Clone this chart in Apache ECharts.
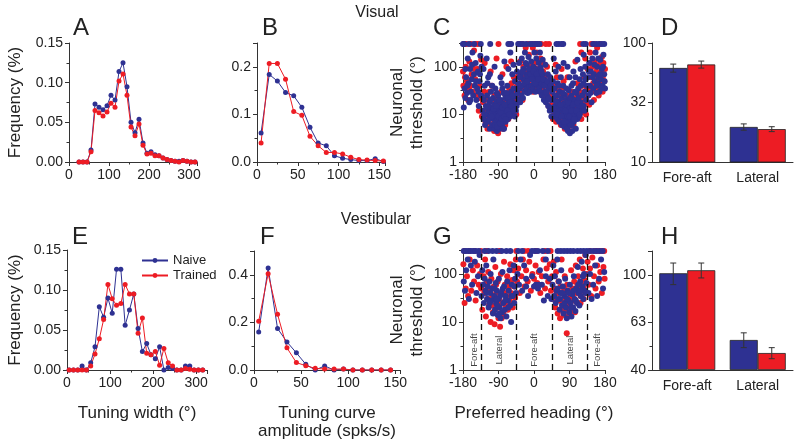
<!DOCTYPE html>
<html>
<head>
<meta charset="utf-8">
<script src="https://cdn.jsdelivr.net/npm/echarts@6/dist/echarts.min.js"></script>
<style>html,body{margin:0;padding:0;background:#fff}#main{width:800px;height:446px}</style>
</head>
<body>
<div id="main"></div>
<script>
var NAIVE = '#2e3192', TRAINED = '#ed1c24', INK = '#222';
var FONT = 'Liberation Sans, Arial, sans-serif';

// A: visual tuning width histogram
var widthBinsA = [25,35,45,55,65,75,85,95,105,115,125,135,145,155,165,175,185,195,205,215,225,235,245,255,265,275,285,295,305,315];
var naiveWidthA = [0,0,0,0.015,0.073,0.069,0.066,0.071,0.084,0.078,0.114,0.125,0.095,0.050,0.037,0.054,0.024,0.011,0.013,0.009,0.008,0.005,0.003,0.002,0.001,0.001,0.002,0.001,0,0];
var trainedWidthA = [0,0,0,0.013,0.065,0.062,0.058,0.063,0.074,0.069,0.102,0.111,0.084,0.044,0.033,0.048,0.021,0.010,0.011,0.008,0.008,0.005,0.003,0.002,0.001,0,0.002,0.001,0,0];

// B: visual tuning amplitude histogram
var ampBinsB = [5,15,25,35,45,55,65,75,85,95,105,115,125,135,145,155];
var naiveAmpB = [0.061,0.184,0.170,0.146,0.139,0.115,0.073,0.040,0.034,0.013,0.008,0.005,0.003,0.003,0.007,0.001];
var trainedAmpB = [0.040,0.207,0.207,0.174,0.106,0.098,0.054,0.034,0.020,0.020,0.017,0.010,0.005,0.004,0.003,0.002];

// E: vestibular tuning width histogram
var widthBinsE = [5,15,25,35,45,55,65,75,85,95,105,115,125,135,145,155,165,175,185,195,205,215,225,235,245,255,265,275,285,295,305,315];
var naiveWidthE = [0,0,0,0.005,0,0.009,0.029,0.079,0.066,0.090,0.071,0.126,0.126,0.056,0.075,0.095,0.052,0.023,0.033,0.019,0.014,0.029,0,0.003,0.002,0,0,0.005,0.005,0,0,0];
var trainedWidthE = [0,0,0,0,0,0.005,0.020,0.039,0.063,0.107,0.089,0.081,0.083,0.107,0.095,0.095,0.046,0.065,0.021,0.019,0.023,0.006,0.027,0.009,0.005,0,0,0.002,0.001,0,0,0];

// F: vestibular tuning amplitude histogram
var ampBinsF = [5,15,25,35,45,55,65,75,85,95,105,115,125,135,145];
var naiveAmpF = [0.160,0.429,0.174,0.118,0.072,0.024,0,0.017,0,0.004,0,0,0,0,0];
var trainedAmpF = [0.205,0.404,0.234,0.093,0.031,0.018,0.007,0.004,0.004,0.004,0,0,0,0,0];

// C: visual thresholds vs preferred heading [heading, threshold]
var naiveVisualPts = [
[-180,300],[-177,300],[-165,300],[-152,300],[-135,300],[-111,300],[-65,300],[-58,300],[-40,300],[-35,300],[-28,300],[-20,300],[-10,300],[-4,300],[3,300],[8,300],[14,300],[57,300],[63,300],[70,300],[74,300],[125,300],[131,300],[150,300],[158,300],[165,300],[172,300],[178,300],
[-178,14],[-176,35],[-174,22],[-172,60],[-170,28],[-168,150],[-166,45],[-164,18],[-162,90],[-160,30],[-158,55],[-156,200],[-154,25],[-152,70],[-150,40],[-148,120],[-146,20],[-144,35],[-142,80],[-140,15],[-138,50],[-136,170],[-134,25],[-133,100],
[-174,90],[-169,40],[-161,20],[-157,110],[-147,50],[-141,30],[-137,70],
[-130,12],[-128,8],[-127,20],[-125,40],[-124,6],[-122,15],[-120,10],[-119,25],[-117,7],[-116,60],[-115,12],[-113,18],[-112,5],[-110,9],[-109,30],[-108,14],[-106,6],[-105,11],[-104,22],[-103,8],[-101,16],[-100,5],[-99,12],[-98,35],[-97,7],[-96,10],[-95,19],[-94,4.5],[-93,13],[-92,8],[-91,25],[-90,6],[-89,11],[-88,15],[-87,5],[-86,9],[-85,20],[-84,7],[-83,12],[-82,45],[-81,6],[-80,10],[-79,17],[-78,8],[-77,28],[-76,5],[-75,13],[-74,9],[-73,22],[-72,7],[-70,15],[-69,11],[-68,40],[-66,8],[-65,18],[-64,12],[-62,25],[-61,9],[-60,14],[-58,30],[-57,11],[-56,20],[-55,70],[-53,13],[-52,35],[-50,17],[-49,9],[-48,50],[-47,24],[-46,12],
[-126,10],[-121,7],[-118,14],[-114,8],[-111,20],[-107,9],[-102,13],[-99,6],[-96,15],[-93,5.5],[-90,9],[-88,20],[-86,6.5],[-84,11],[-82,8],[-80,14],[-78,5],[-76,9],[-74,16],[-71,8],[-68,12],[-66,22],[-63,10],[-60,18],[-57,15],[-54,25],[-51,12],[-106,40],[-94,28],[-80,35],[-70,28],[-118,45],
[-128,90],[-120,150],[-112,70],[-100,100],[-85,60],[-75,130],[-65,90],[-60,200],[-52,110],
[-44,15],[-43,80],[-42,28],[-40,45],[-39,20],[-38,120],[-36,35],[-35,18],[-34,65],[-32,25],[-31,150],[-30,40],[-28,22],[-27,90],[-26,55],[-24,30],[-23,200],[-22,45],[-20,70],[-19,35],[-18,110],[-16,28],[-15,60],[-14,160],[-12,40],[-11,85],[-10,30],[-8,55],[-7,130],[-6,40],[-4,70],[-3,35],[-2,100],[0,45],[1,200],[2,60],[4,30],[5,90],[6,150],[8,50],[9,40],[10,75],[12,120],[13,35],[14,60],[16,30],[17,95],[18,45],[20,25],[21,70],[22,140],[24,40],[25,20],[26,55],[28,30],[29,110],[30,18],[32,45],[33,25],[35,70],[36,15],[38,35],[40,12],[41,60],[42,20],[44,9],
[-41,35],[-37,60],[-33,40],[-29,80],[-25,45],[-21,120],[-17,50],[-13,90],[-9,70],[-5,55],[-1,80],[3,45],[7,70],[11,55],[15,200],[19,80],[23,55],[27,40],[31,30],[34,50],[37,22],[43,40],
[46,30],[47,12],[48,50],[50,20],[51,9],[52,35],[54,15],[55,80],[56,11],[58,25],[59,8],[60,45],[61,14],[62,19],[64,7],[65,30],[66,12],[68,60],[69,9],[70,22],[71,6],[72,14],[74,40],[75,10],[76,17],[77,5.5],[78,26],[80,8],[81,12],[82,20],[83,6],[84,9],[85,15],[86,4.5],[87,11],[88,32],[89,7],[90,13],[91,4],[92,18],[93,8],[94,10],[95,25],[96,6],[97,14],[98,9],[99,45],[100,12],[101,7],[102,20],[104,10],[105,16],[106,5],[108,28],[109,11],[110,8],[112,35],[113,14],[114,9],[116,55],[118,18],[120,12],[122,25],[124,70],[126,15],[128,30],[130,100],[132,20],[134,40],
[49,14],[53,25],[57,18],[60,10],[63,40],[67,16],[70,9],[73,28],[76,7],[79,12],[82,35],[84,5],[87,18],[89,9],[91,22],[93,6],[95,12],[97,4.5],[99,16],[102,8],[104,30],[107,12],[110,18],[113,22],[116,10],[119,40],[122,15],[125,45],[128,12],[131,55],[85,100],[95,40],[105,60],
[50,150],[62,100],[75,120],[90,60],[100,80],[110,140],[118,90],[126,180],
[136,60],[138,25],[140,120],[142,40],[144,80],[146,18],[148,150],[150,35],[152,70],[154,50],[156,200],[158,28],[160,100],[162,45],[164,60],[166,30],[168,140],[170,55],[172,90],[174,40],[176,180],[178,70],[180,35],
[139,80],[143,28],[149,60],[153,110],[159,40],[163,150],[167,70],[171,35],[175,100],[179,50]
];
var trainedVisualPts = [
[-177,300],[-172,300],[-160,300],[-148,300],[-142,300],[-90,300],[-62,300],[-38,300],[-30,300],[-15,300],[-5,300],[2,300],[10,300],[18,300],[30,300],[38,300],[117,300],[145,300],[152,300],[168,300],
[-180,80],[-179,40],[-176,25],[-173,100],[-170,50],[-167,20],[-164,130],[-161,40],[-158,70],[-155,30],[-152,220],[-149,55],[-146,25],[-143,90],[-140,12],[-137,40],[-134,140],
[-175,60],[-165,35],[-150,90],[-138,22],
[-132,9],[-129,18],[-126,30],[-123,7],[-121,12],[-118,5],[-116,20],[-114,9],[-111,14],[-109,6],[-107,40],[-105,8],[-103,12],[-101,4.5],[-99,18],[-97,9],[-95,6],[-93,22],[-91,4],[-89,10],[-87,14],[-85,7],[-83,30],[-81,9],[-79,5],[-77,12],[-75,19],[-73,6],[-71,10],[-69,25],[-67,13],[-65,8],[-63,35],[-61,16],[-59,10],[-57,45],[-55,15],[-53,22],[-51,60],[-49,13],[-47,30],[-125,120],[-110,80],[-95,150],[-80,70],[-70,100],[-58,130],
[-128,10],[-122,22],[-117,8],[-113,30],[-108,11],[-104,5],[-100,25],[-96,12],[-92,7],[-88,5],[-84,17],[-80,9],[-76,28],[-72,13],[-68,8],[-64,20],[-60,12],[-56,28],[-50,20],
[-45,10],[-43,40],[-41,18],[-39,70],[-37,25],[-35,130],[-33,30],[-31,55],[-29,20],[-27,100],[-25,38],[-23,60],[-21,250],[-19,30],[-17,80],[-15,45],[-13,180],[-11,35],[-9,60],[-7,100],[-5,40],[-3,250],[-1,70],[1,50],[3,120],[5,35],[7,200],[9,60],[11,45],[13,90],[15,30],[17,150],[19,50],[21,35],[23,80],[25,25],[27,60],[29,40],[31,20],[33,100],[35,30],[37,15],[39,50],[41,14],[43,25],
[-40,25],[-32,60],[-22,35],[-12,70],[-2,30],[6,90],[14,50],[22,120],[30,45],[40,30],
[46,16],[48,8],[50,40],[52,13],[54,22],[56,7],[58,60],[60,12],[62,30],[64,9],[66,18],[68,6],[70,35],[72,11],[74,8],[76,20],[78,5],[80,14],[82,9],[84,25],[86,6],[88,12],[90,4.5],[92,16],[94,8],[96,30],[98,11],[100,6],[102,15],[104,9],[106,22],[108,13],[110,45],[112,10],[114,18],[116,30],[118,12],[120,8],[122,40],[124,20],[126,15],[128,60],[130,25],[132,10],[134,35],[55,110],[70,90],[85,60],[105,130],[120,200],[130,150],
[47,25],[51,10],[55,35],[59,15],[63,8],[67,25],[71,14],[75,50],[79,10],[83,18],[87,8],[89,6],[93,12],[97,20],[101,9],[106,14],[111,25],[117,16],[123,11],[129,18],[133,20],
[136,90],[138,40],[140,16],[142,200],[144,60],[146,30],[148,100],[150,45],[152,20],[154,130],[156,70],[158,35],[160,250],[162,55],[164,25],[166,110],[168,40],[170,80],[172,160],[174,30],[176,120],[178,50],[180,90],
[140,35],[150,130],[158,80],[166,45],[174,60]
];

// G: vestibular thresholds vs preferred heading [heading, threshold]
var naiveVestPts = [
[-178,300],[-172,300],[-166,300],[-160,300],[-154,300],[-148,300],[-140,300],[-125,300],[-115,300],[-105,300],[-95,300],[-82,300],[-70,300],[-60,300],[-40,300],[-30,300],[-5,300],[2,300],[10,300],[22,300],[35,300],[60,300],[68,300],[76,300],[84,300],[92,300],[100,300],[110,300],[118,300],[126,300],[134,300],[142,300],[150,300],[158,300],[166,300],[174,300],
[-178,70],[-175,45],[-172,120],[-168,200],[-165,30],[-160,150],[-157,60],[-150,180],[-146,40],[-142,90],[-138,250],
[-133,35],[-131,120],[-129,60],[-127,25],[-125,80],[-123,45],[-121,150],[-119,30],[-117,55],[-115,20],[-113,70],[-111,40],[-110,100],[-108,28],[-106,50],[-104,15],[-103,200],[-101,35],[-99,18],[-97,65],[-96,25],[-94,45],[-92,14],[-90,30],[-89,80],[-87,20],[-85,12],[-83,40],[-81,16],[-80,110],[-78,25],[-76,55],[-74,18],[-72,35],[-70,13],[-68,70],[-66,28],[-64,45],[-62,120],[-60,22],[-58,10],[-56,60],[-54,35],[-52,150],[-50,25],[-48,80],[-46,40],
[-120,40],[-112,25],[-100,50],[-93,22],[-86,35],[-79,50],[-73,28],[-65,20],[-57,35],[-49,55],[-88,15],[-95,30],
[-42,100],[-38,60],[-34,200],[-30,45],[-25,150],[-20,80],[-15,35],[-10,250],[-5,90],[0,55],[5,60],[10,50],[15,120],[20,60],[25,28],[30,200],[35,35],[40,80],[44,30],
[-20,55],[12,60],[30,90],
[47,60],[49,150],[51,35],[53,90],[55,25],[57,45],[59,200],[61,30],[63,70],[65,18],[67,40],[69,120],[71,22],[73,55],[75,15],[77,35],[79,80],[81,20],[83,12],[85,45],[87,28],[89,16],[91,60],[93,25],[95,13],[97,38],[99,20],[101,90],[103,30],[105,17],[107,50],[109,25],[111,140],[113,40],[115,22],[117,70],[119,35],[121,180],[123,55],[125,30],[127,100],[129,45],[131,250],[133,65],
[60,50],[66,30],[72,40],[78,25],[84,30],[88,40],[94,20],[100,45],[106,28],[112,60],[118,45],[124,90],[130,40],
[138,40],[142,100],[146,30],[150,60],[155,150],[160,35],[165,80],[170,200],[175,50],[178,110]
];
var trainedVestPts = [
[-176,300],[-164,300],[-150,300],[-135,300],[-120,300],[-88,300],[-45,300],[-25,300],[-15,300],[5,300],[28,300],[42,300],[142,300],[155,300],[162,300],[170,300],[178,300],
[-179,160],[-176,25],[-173,50],[-170,90],[-167,35],[-163,200],[-159,45],[-155,120],[-152,70],[-148,28],[-144,150],[-140,60],[-137,100],
[-134,50],[-131,18],[-128,90],[-126,40],[-124,200],[-122,13],[-120,65],[-118,30],[-116,110],[-114,22],[-112,45],[-110,10],[-108,80],[-106,33],[-104,16],[-102,55],[-100,9],[-98,140],[-96,40],[-94,20],[-92,70],[-90,12],[-88,30],[-86,8],[-84,100],[-82,25],[-80,45],[-78,15],[-76,180],[-74,60],[-72,22],[-70,35],[-68,90],[-66,18],[-64,50],[-62,28],[-60,160],[-58,40],[-56,75],[-54,20],[-52,120],[-50,55],[-48,32],[-46,200],
[-118,50],[-106,22],[-96,60],[-90,20],[-82,12],[-75,40],[-66,60],[-58,25],
[-43,70],[-40,130],[-36,40],[-32,90],[-28,200],[-24,55],[-20,120],[-16,70],[-12,180],[-8,45],[-4,100],[0,80],[4,150],[8,65],[12,110],[16,40],[20,90],[24,200],[28,50],[32,130],[36,70],[40,160],[43,45],
[46,90],[48,30],[50,180],[52,50],[54,20],[56,110],[58,40],[60,15],[62,70],[64,28],[66,12],[68,55],[70,200],[72,25],[74,40],[76,14],[78,90],[80,30],[82,18],[83,5.8],[84,60],[86,22],[88,13],[90,45],[92,35],[94,120],[96,20],[98,50],[100,28],[102,70],[104,16],[106,150],[108,40],[110,25],[112,90],[114,55],[116,200],[118,35],[120,60],[122,45],[124,130],[126,30],[128,75],[130,250],[132,40],[134,100],
[62,40],[70,18],[76,50],[86,30],[92,16],[98,35],[104,45],[110,60],[118,25],[126,50],
[136,180],[139,60],[142,130],[145,35],[148,220],[152,90],[156,50],[160,150],[164,70],[168,110],[172,40],[176,140],[179,80]
];
var zoneBounds = [-135, -45, 45, 135];
var zoneNames = ['Fore-aft', 'Lateral', 'Fore-aft', 'Lateral', 'Fore-aft'];
var zoneCenters = [-152, -88, 2, 92, 160];

// D / H: mean threshold by heading group
var barCats = ['Fore-aft', 'Lateral'];
var naiveThrD = [61.7, 19.7], naiveErrD = [4.8, 1.2];
var trainedThrD = [66.0, 18.9], trainedErrD = [4.5, 0.9];
var naiveThrH = [101.5, 53.4], naiveErrH = [10.5, 3.8];
var trainedThrH = [104.5, 47.1], trainedErrH = [7.5, 2.5];

// axis transforms for log-style axes
function lg(v) { return Math.log10(v); }
function hScale(v) { return Math.log(v / 40) / Math.log(2.5) * 2; } // 40, 63, 100 evenly spaced

function pairs(xs, ys) { return xs.map(function (x, i) { return [x, ys[i]]; }); }
function logPts(pts) { return pts.map(function (p) { return [p[0], lg(p[1])]; }); }

var chart = echarts.init(document.getElementById('main'), null, { renderer: 'canvas' });

var grids = [
  { left: 69, top: 43, width: 128, height: 119 },   // A
  { left: 257, top: 43, width: 128, height: 119 },  // B
  { left: 463, top: 43, width: 142, height: 119 },  // C
  { left: 652, top: 43, width: 141, height: 119 },  // D
  { left: 67, top: 250, width: 140, height: 120 },  // E
  { left: 254, top: 251, width: 146, height: 119 }, // F
  { left: 463, top: 250, width: 142, height: 120 }, // G
  { left: 652, top: 251, width: 141, height: 119 }  // H
].map(function (g) { g.outerBoundsMode = 'none'; g.containLabel = false; return g; });

var lineStyleAx = { color: '#333', width: 1 };
function valAxis(gi, opt) {
  var a = {
    type: 'value', gridIndex: gi,
    axisLine: { show: true, onZero: false, lineStyle: lineStyleAx },
    axisTick: { show: true, length: 4, inside: false, lineStyle: lineStyleAx },
    minorTick: { show: true, splitNumber: 2, length: 2.5, lineStyle: lineStyleAx },
    splitLine: { show: false },
    axisLabel: { color: INK, fontSize: 14, fontFamily: FONT, margin: 6, showMaxLabel: false },
    nameLocation: 'middle',
    nameTextStyle: { color: INK, fontSize: 17, fontFamily: FONT, lineHeight: 20 }
  };
  for (var k in opt) a[k] = opt[k];
  return a;
}
function fmtLog10(v) { return String(Math.round(Math.pow(10, v))); }

var xAxes = [
  valAxis(0, { min: 0, max: 320, interval: 100 }),
  valAxis(1, { min: 0, max: 157, interval: 50 }),
  valAxis(2, { min: -180, max: 180, interval: 90, minorTick: { show: false },
    axisLabel: { color: INK, fontSize: 14, fontFamily: FONT, margin: 6 } }),
  { type: 'category', gridIndex: 3, data: barCats,
    axisLine: { lineStyle: lineStyleAx }, axisTick: { alignWithLabel: true, length: 4, lineStyle: lineStyleAx },
    axisLabel: { color: INK, fontSize: 14, fontFamily: FONT, margin: 9 } },
  valAxis(4, { min: 0, max: 325, interval: 100, name: 'Tuning width (°)', nameGap: 33 }),
  valAxis(5, { min: 0, max: 155, interval: 50, name: 'Tuning curve\namplitude (spks/s)', nameGap: 34,
    nameTextStyle: { color: INK, fontSize: 17, fontFamily: FONT, lineHeight: 18 } }),
  valAxis(6, { min: -180, max: 180, interval: 90, minorTick: { show: false }, name: 'Preferred heading (°)', nameGap: 33,
    axisLabel: { color: INK, fontSize: 14, fontFamily: FONT, margin: 6 } }),
  { type: 'category', gridIndex: 7, data: barCats,
    axisLine: { lineStyle: lineStyleAx }, axisTick: { alignWithLabel: true, length: 4, lineStyle: lineStyleAx },
    axisLabel: { color: INK, fontSize: 14, fontFamily: FONT, margin: 9 } }
];

var yAxes = [
  valAxis(0, { min: 0, max: 0.15, interval: 0.05, name: 'Frequency (%)', nameGap: 44,
    axisLabel: { color: INK, fontSize: 14, fontFamily: FONT, margin: 6, formatter: function (v) { return v.toFixed(2); } } }),
  valAxis(1, { min: 0, max: 0.25, interval: 0.1,
    axisLabel: { color: INK, fontSize: 14, fontFamily: FONT, margin: 6, showMaxLabel: false, formatter: function (v) { return v.toFixed(1); } } }),
  valAxis(2, { min: 0, max: 2.5, interval: 1, name: 'Neuronal\nthreshold (°)', nameGap: 36,
    axisLabel: { color: INK, fontSize: 14, fontFamily: FONT, margin: 6, showMaxLabel: false, formatter: fmtLog10 } }),
  valAxis(3, { min: 1, max: 2, interval: 0.5,
    axisLabel: { color: INK, fontSize: 14, fontFamily: FONT, margin: 6, formatter: fmtLog10 } }),
  valAxis(4, { min: 0, max: 0.15, interval: 0.05, name: 'Frequency (%)', nameGap: 42,
    axisLabel: { color: INK, fontSize: 14, fontFamily: FONT, margin: 6, formatter: function (v) { return v.toFixed(2); } } }),
  valAxis(5, { min: 0, max: 0.5, interval: 0.2,
    axisLabel: { color: INK, fontSize: 14, fontFamily: FONT, margin: 6, showMaxLabel: false, formatter: function (v) { return v.toFixed(1); } } }),
  valAxis(6, { min: 0, max: 2.5, interval: 1, name: 'Neuronal\nthreshold (°)', nameGap: 36,
    axisLabel: { color: INK, fontSize: 14, fontFamily: FONT, margin: 6, showMaxLabel: false, formatter: fmtLog10 } }),
  valAxis(7, { min: 0, max: 2.5, interval: 1,
    axisLabel: { color: INK, fontSize: 14, fontFamily: FONT, margin: 6, showMaxLabel: false,
      formatter: function (v) { return String(Math.round(40 * Math.pow(2.5, v / 2))); } } })
];

function histLine(gi, name, color, xs, ys) {
  return {
    type: 'line', name: name, xAxisIndex: gi, yAxisIndex: gi, data: pairs(xs, ys),
    symbol: 'circle', symbolSize: 5, showSymbol: true,
    itemStyle: { color: color }, lineStyle: { color: color, width: 1 }
  };
}
function scatterSet(gi, name, color, pts) {
  return {
    type: 'scatter', name: name, xAxisIndex: gi, yAxisIndex: gi, data: logPts(pts),
    symbolSize: 6, itemStyle: { color: color, opacity: 1 }
  };
}
var dashLines = {
  silent: true, symbol: 'none', label: { show: false },
  lineStyle: { color: '#111', width: 1.3, type: [6, 4] },
  data: zoneBounds.map(function (b) { return { xAxis: b }; })
};
function bars(gi, name, color, vals, toAxis) {
  return {
    type: 'bar', name: name, xAxisIndex: gi, yAxisIndex: gi, data: vals.map(toAxis),
    barWidth: 28, barGap: '0%', clip: true,
    itemStyle: { color: color, borderColor: '#222', borderWidth: 0.8 }
  };
}
function errBars(gi, means, errs, side, toAxis) {
  return {
    type: 'custom', xAxisIndex: gi, yAxisIndex: gi, z: 5,
    encode: { x: 0, y: [1, 2] },
    data: means.map(function (m, i) { return [i, toAxis(m - errs[i]), toAxis(m + errs[i])]; }),
    renderItem: function (params, api) {
      var lo = api.coord([api.value(0), api.value(1)]);
      var hi = api.coord([api.value(0), api.value(2)]);
      var x = lo[0] + side * 14;
      var st = { stroke: '#333', lineWidth: 1 };
      return { type: 'group', children: [
        { type: 'line', shape: { x1: x, y1: lo[1], x2: x, y2: hi[1] }, style: st },
        { type: 'line', shape: { x1: x - 3, y1: lo[1], x2: x + 3, y2: lo[1] }, style: st },
        { type: 'line', shape: { x1: x - 3, y1: hi[1], x2: x + 3, y2: hi[1] }, style: st }
      ] };
    }
  };
}

var naiveC = scatterSet(2, 'Naive', NAIVE, naiveVisualPts); naiveC.markLine = dashLines;
var naiveG = scatterSet(6, 'Naive', NAIVE, naiveVestPts); naiveG.markLine = dashLines;

var series = [
  histLine(0, 'Naive', NAIVE, widthBinsA, naiveWidthA),
  histLine(0, 'Trained', TRAINED, widthBinsA, trainedWidthA),
  histLine(1, 'Naive', NAIVE, ampBinsB, naiveAmpB),
  histLine(1, 'Trained', TRAINED, ampBinsB, trainedAmpB),
  scatterSet(2, 'Trained', TRAINED, trainedVisualPts),
  naiveC,
  bars(3, 'Naive', NAIVE, naiveThrD, lg),
  bars(3, 'Trained', TRAINED, trainedThrD, lg),
  errBars(3, naiveThrD, naiveErrD, -1, lg),
  errBars(3, trainedThrD, trainedErrD, 1, lg),
  histLine(4, 'Naive', NAIVE, widthBinsE, naiveWidthE),
  histLine(4, 'Trained', TRAINED, widthBinsE, trainedWidthE),
  histLine(5, 'Naive', NAIVE, ampBinsF, naiveAmpF),
  histLine(5, 'Trained', TRAINED, ampBinsF, trainedAmpF),
  scatterSet(6, 'Trained', TRAINED, trainedVestPts),
  naiveG,
  {
    type: 'scatter', xAxisIndex: 6, yAxisIndex: 6, symbolSize: 0, silent: true, z: 6,
    data: zoneCenters.map(function (c, i) { return { name: zoneNames[i], value: [c, lg(2.6)] }; }),
    label: { show: true, position: 'inside', rotate: 90, formatter: '{b}', color: '#111', fontSize: 9.5, fontFamily: FONT }
  },
  bars(7, 'Naive', NAIVE, naiveThrH, hScale),
  bars(7, 'Trained', TRAINED, trainedThrH, hScale),
  errBars(7, naiveThrH, naiveErrH, -1, hScale),
  errBars(7, trainedThrH, trainedErrH, 1, hScale)
];

function txt(x, y, s, size) {
  return { type: 'text', x: x, y: y, silent: true,
    style: { text: s, fontSize: size, fontFamily: FONT, fill: INK, align: 'left', verticalAlign: 'middle' } };
}
var graphics = [
  { type: 'text', x: 377, y: 13, style: { text: 'Visual', fontSize: 16, fontFamily: FONT, fill: INK, align: 'center', verticalAlign: 'middle' } },
  { type: 'text', x: 376, y: 220, style: { text: 'Vestibular', fontSize: 16, fontFamily: FONT, fill: INK, align: 'center', verticalAlign: 'middle' } },
  txt(73, 28, 'A', 24), txt(262, 28, 'B', 24), txt(433, 28, 'C', 24), txt(661, 28, 'D', 24),
  txt(72, 237, 'E', 24), txt(260, 237, 'F', 24), txt(433, 237, 'G', 24), txt(661, 237, 'H', 24)
];

chart.setOption({
  animation: false,
  backgroundColor: '#fff',
  textStyle: { fontFamily: FONT },
  grid: grids,
  xAxis: xAxes,
  yAxis: yAxes,
  legend: {
    data: ['Naive', 'Trained'], orient: 'vertical', left: 136, top: 249,
    itemWidth: 26, itemHeight: 6, itemGap: 2, selectedMode: false,
    textStyle: { color: INK, fontSize: 13, fontFamily: FONT }
  },
  graphic: graphics,
  series: series
});
</script>
</body>
</html>
